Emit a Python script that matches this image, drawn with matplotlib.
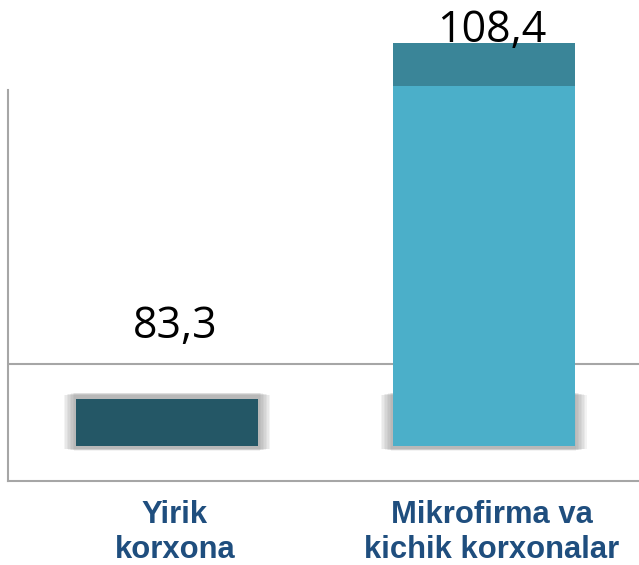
import matplotlib.pyplot as plt
import matplotlib.transforms as mtransforms
from matplotlib.patches import Rectangle

# ============================================================
# DATA
# ============================================================
categories = ["Yirik\nkorxona", "Mikrofirma va\nkichik korxonalar"]
values = [83.3, 108.4]
value_labels = ["83,3", "108,4"]
bar_colors = ["#245766", "#4bafc9"]
cap_colors = ["#245766", "#3a8598"]

BASE = 80.0
YMIN, YMAX = 77.53, 111.43
GRID_Y = 85.78
SPINE_TOP = 105.1
BAR_W = 0.575
CAP_H = 3.0
SHADOW_TOP = 83.6
SHADOW_BOT = 79.8
PX = 0.00316  # one pixel in x data units


def draw_shadow(ax, xc):
    # soft floor shadow: stacked translucent rectangles
    for i in range(8):
        grow = (12 - 1.5 * i) * PX
        ax.add_patch(Rectangle(
            (xc - BAR_W / 2 - grow, SHADOW_BOT - i * 0.02),
            BAR_W + 2 * grow, SHADOW_TOP - SHADOW_BOT + i * 0.04,
            facecolor="#7f7f7f", edgecolor="none", alpha=0.09, zorder=1))


fig = plt.figure(figsize=(6.39, 5.65), dpi=100)
ax = fig.add_axes([8 / 639, 84 / 565, 631 / 639, 481 / 565])
ax.set_xlim(-0.502, 1.49)
ax.set_ylim(YMIN, YMAX)

ax.axhline(GRID_Y, color="#a6a6a6", lw=1.5, zorder=0.5)

for i, v in enumerate(values):
    draw_shadow(ax, i)
    ax.bar(i, v - BASE, bottom=BASE, width=BAR_W, color=bar_colors[i],
           edgecolor="none", zorder=2)
    if v - BASE > CAP_H * 2:
        ax.bar(i, CAP_H, bottom=v - CAP_H, width=BAR_W, color=cap_colors[i],
               edgecolor="none", zorder=3)
    ax.text(i + 0.025, min(v + 4.3, 108.5), value_labels[i], ha="center",
            va="baseline", fontsize=31, family="Open Sans", color="black",
            zorder=4)

ax.set_xticks(range(len(categories)))
ax.set_xticklabels(categories, fontsize=22.3, fontweight="bold",
                   family="Liberation Sans", color="#1f4e7e", linespacing=1.2)
ax.tick_params(axis="x", length=0, pad=14)
ax.set_yticks([])

# labels sit a little right of the bar centres
shift = mtransforms.ScaledTranslation(8 / 100, 0, fig.dpi_scale_trans)
for lbl in ax.get_xticklabels():
    lbl.set_transform(lbl.get_transform() + shift)

for s in ["top", "right"]:
    ax.spines[s].set_visible(False)
ax.spines["left"].set_bounds(YMIN, SPINE_TOP)
ax.spines["left"].set_color("#a6a6a6")
ax.spines["left"].set_linewidth(1.5)
ax.spines["bottom"].set_color("#a6a6a6")
ax.spines["bottom"].set_linewidth(1.5)

fig.savefig("out.png", dpi=100)
